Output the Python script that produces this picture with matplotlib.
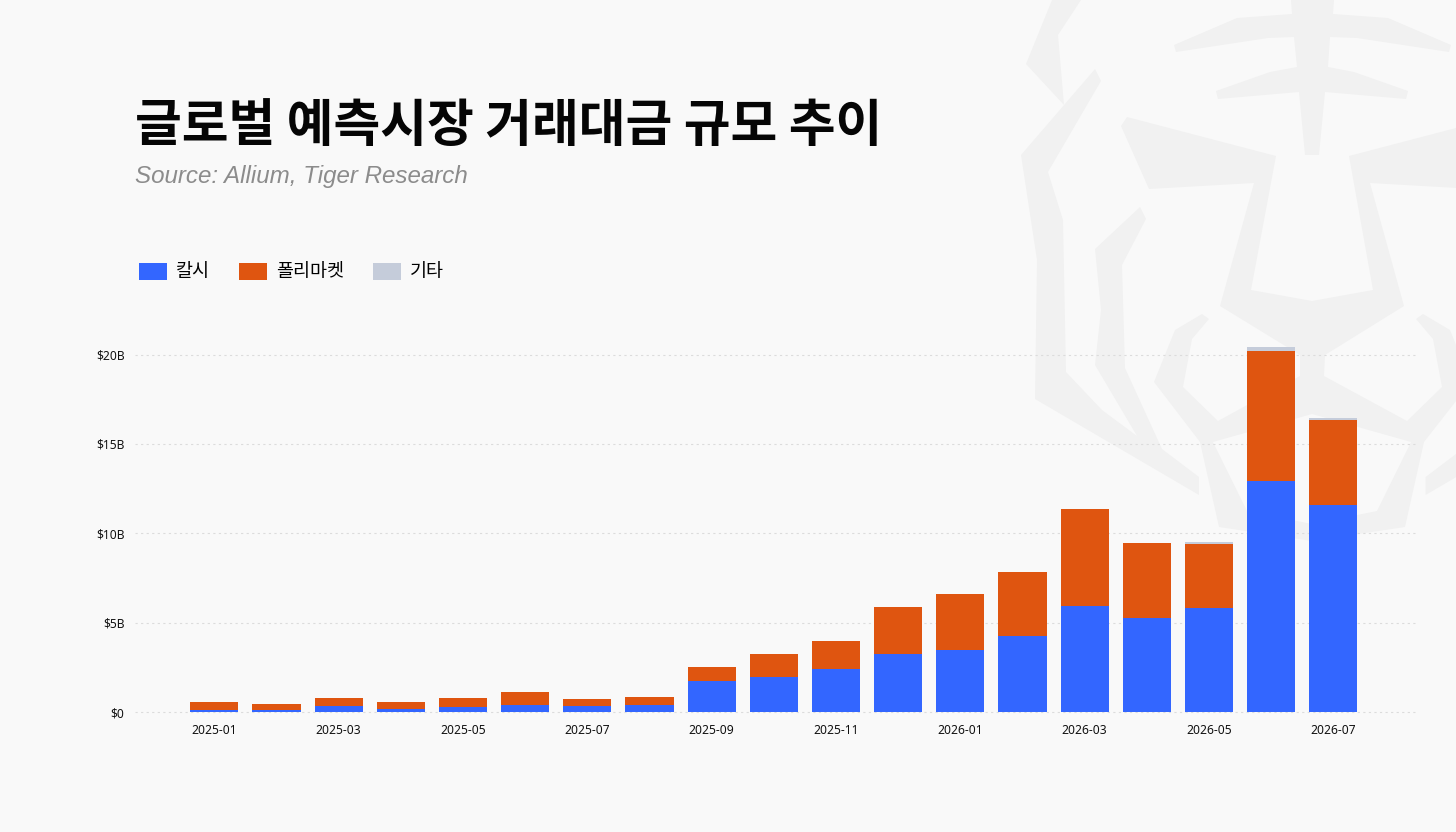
import matplotlib
matplotlib.use('Agg')
import matplotlib.pyplot as plt
from matplotlib.patches import Polygon, Patch
import numpy as np

months = ['2025-01','2025-02','2025-03','2025-04','2025-05','2025-06','2025-07','2025-08','2025-09','2025-10',
          '2025-11','2025-12','2026-01','2026-02','2026-03','2026-04','2026-05','2026-06','2026-07']
kalshi = [0.09,0.09,0.32,0.17,0.26,0.37,0.32,0.37,1.73,1.94,2.41,3.25,3.49,4.27,5.93,5.26,5.82,12.90,11.60]
poly = [0.45,0.34,0.44,0.39,0.52,0.73,0.41,0.45,0.79,1.31,1.56,2.62,3.14,3.56,5.44,4.18,3.60,7.30,4.75]
other = [0,0,0,0,0,0,0,0,0,0,0,0,0,0,0,0,0.11,0.25,0.10]

BG = '#f9f9f9'
WM = '#f1f1f1'
BLUE = '#3366ff'
ORANGE = '#df5510'
GREY = '#c5ccda'

plt.rcParams['font.family'] = ['Noto Sans CJK KR', 'DejaVu Sans']

fig = plt.figure(figsize=(14.56, 8.32), dpi=100, facecolor=BG)

# watermark, pixel coords of the page
bg = fig.add_axes([0, 0, 1, 1], zorder=0)
bg.set_xlim(0, 1456)
bg.set_ylim(832, 0)
bg.axis('off')

CX = 1312.3
wedge = [(1052,0),(1081,0),(1058,35),(1064,105),(1026,64)]
side = [(1095,69),(1101,81),(1048,172),(1063,220),(1066,372),(1102,410),(1137,436),(1095,365),(1101,310),
        (1095,249),(1140,207),(1146,219),(1122,265),(1125,368),(1162,449),(1199,477),(1199,495),(1035,399),
        (1037,260),(1021,155)]
brow = [(1291,0),(1334,0),(1333,14),(1388,18),(1451,45),(1449,52),(1357,38),(1330,37),(1328,67),(1354,72),
        (1408,91),(1406,99),(1325,92),(1319,155),(1305,155),(1299,92),(1218,99),(1216,91),(1270,72),(1297,67),
        (1294,37),(1268,38),(1176,52),(1174,45),(1237,18),(1292,14)]
face = [(1127,117),(1276,156),(1251,290),(1312,301),(1373,290),(1349,156),(1498,117),(1504,126),(1475,189),
        (1370,183),(1404,306),(1325,355),(1324,376),(1407,421),(1442,387),(1433,339),(1416,319),(1423,314),
        (1450,330),(1471,382),(1424,442),(1405,527),(1312,541),(1219,527),(1200,442),(1154,382),(1175,330),
        (1202,314),(1209,319),(1192,339),(1183,387),(1218,421),(1300,376),(1300,355),(1220,306),(1254,183),
        (1149,189),(1121,126)]
muzzle = [(1213,442),(1312,414),(1411,442),(1377,511),(1312,524),(1247,511)]

def mirror(pts):
    return [(2 * CX - x, y) for x, y in pts]

for pts in [wedge, side, mirror(wedge), mirror(side), brow, face]:
    bg.add_patch(Polygon(pts, closed=True, fc=WM, ec='none'))
bg.add_patch(Polygon(muzzle, closed=True, fc=BG, ec='none'))

# chart
ax = fig.add_axes([135 / 1456, 1 - 722 / 832, (1416 - 135) / 1456, (722 - 330) / 832], zorder=1)
ax.patch.set_alpha(0)
x = np.arange(len(months))
k = np.array(kalshi)
p = np.array(poly)
o = np.array(other)
ax.bar(x, k, width=0.775, color=BLUE, zorder=3)
ax.bar(x, p, width=0.775, bottom=k, color=ORANGE, zorder=3)
ax.bar(x, o, width=0.775, bottom=k + p, color=GREY, zorder=3)

ax.set_xlim(-1.275, 19.33)
ax.set_ylim(-10 / 17.87, 382 / 17.87)
ax.set_yticks([0, 5, 10, 15, 20])
ax.set_yticklabels(['$0', '$5B', '$10B', '$15B', '$20B'])
ax.set_xticks(x[::2])
ax.set_xticklabels(months[::2])
ax.tick_params(length=0, labelsize=8.7, colors='#111111')
ax.tick_params(axis='x', pad=1.5)
ax.tick_params(axis='y', pad=7.6)
for lab in ax.get_xticklabels() + ax.get_yticklabels():
    lab.set_family(['Noto Sans', 'DejaVu Sans'])
ax.grid(axis='y', color='#dcdcdc', lw=0.8, ls=(0, (2, 3)), zorder=0)
ax.set_axisbelow(True)
for s in ax.spines.values():
    s.set_visible(False)

fig.text(135 / 1456, 1 - 127 / 832, '글로벌 예측시장 거래대금 규모 추이', fontsize=36.6, fontweight='bold',
         color='#050505', va='center', ha='left')
fig.text(135 / 1456, 1 - 177 / 832, 'Source: Allium, Tiger Research', fontsize=17.4, style='italic',
         family='Liberation Sans', color='#8c8c8c', va='center', ha='left')

handles = [Patch(fc=BLUE, label='칼시'), Patch(fc=ORANGE, label='폴리마켓'), Patch(fc=GREY, label='기타')]
fig.legend(handles=handles, loc='center left', bbox_to_anchor=(139 / 1456, 1 - 272 / 832), frameon=False,
           ncol=3, fontsize=13.3, handlelength=1.51, handleheight=1.03, handletextpad=0.51, columnspacing=1.55,
           borderpad=0, borderaxespad=0)

fig.savefig('out.png', dpi=100, facecolor=BG)
